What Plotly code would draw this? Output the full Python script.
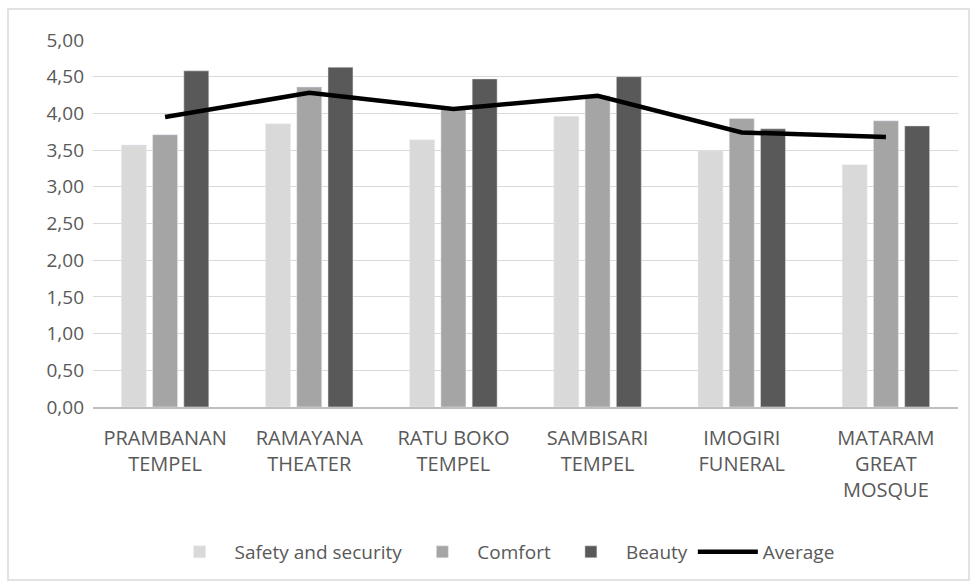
import plotly.graph_objects as go

categories = ["PRAMBANAN<br>TEMPEL", "RAMAYANA<br>THEATER", "RATU BOKO<br>TEMPEL",
              "SAMBISARI<br>TEMPEL", "IMOGIRI<br>FUNERAL", "MATARAM<br>GREAT<br>MOSQUE"]
safety = [3.57, 3.86, 3.64, 3.96, 3.49, 3.30]
comfort = [3.71, 4.36, 4.08, 4.24, 3.93, 3.90]
beauty = [4.58, 4.63, 4.47, 4.50, 3.79, 3.83]
average = [3.95, 4.28, 4.06, 4.24, 3.74, 3.68]
y_ticks = [0, 0.5, 1, 1.5, 2, 2.5, 3, 3.5, 4, 4.5, 5]

W, H = 975, 587
L, R, T, B = 93, 17, 40, 180
pw, ph = W - L - R, H - T - B

font_fam = "Open Sans, sans-serif"
gray_txt = "#595959"

fig = go.Figure()
fig.add_trace(go.Bar(name="Safety and security", x=categories, y=safety, marker_color="#d9d9d9"))
fig.add_trace(go.Bar(name="Comfort", x=categories, y=comfort, marker_color="#a5a5a5"))
fig.add_trace(go.Bar(name="Beauty", x=categories, y=beauty, marker_color="#595959"))
fig.add_trace(go.Scatter(name="Average", x=categories, y=average, mode="lines",
                         line=dict(color="#000000", width=4.5)))

def px_x(p):
    return (p - L) / pw

def px_y(p):
    return (H - B - p) / ph

fig.add_shape(type="rect", xref="paper", yref="paper",
              x0=px_x(8), x1=px_x(969), y0=px_y(580), y1=px_y(9),
              line=dict(color="#d9d9d9", width=1.5), fillcolor="rgba(0,0,0,0)", layer="below")

fig.update_layout(
    width=W, height=H,
    margin=dict(l=L, r=R, t=T, b=B, autoexpand=False),
    paper_bgcolor="white", plot_bgcolor="white",
    barmode="group", bargap=0.35, bargroupgap=0.2,
    separators=",.",
    font=dict(family=font_fam, color=gray_txt, size=19),
    legend=dict(orientation="h", x=px_x(502), xanchor="center", y=px_y(552), yanchor="middle",
                font=dict(size=19, family=font_fam, color=gray_txt), traceorder="normal",
                itemwidth=60, tracegroupgap=0),
    showlegend=True,
)
fig.update_xaxes(showgrid=False, showline=True, linecolor="#bfbfbf", linewidth=1.5,
                 ticks="", ticklabelstandoff=12,
                 tickfont=dict(size=20, family=font_fam, color=gray_txt))
fig.update_yaxes(range=[0, 5], tickvals=y_ticks, tickformat=".2f", showgrid=True,
                 gridcolor="#d9d9d9", gridwidth=1, zeroline=False, showline=False,
                 ticks="", ticklabelstandoff=8,
                 tickfont=dict(size=19, family=font_fam, color=gray_txt))

fig.write_html("out.html")
